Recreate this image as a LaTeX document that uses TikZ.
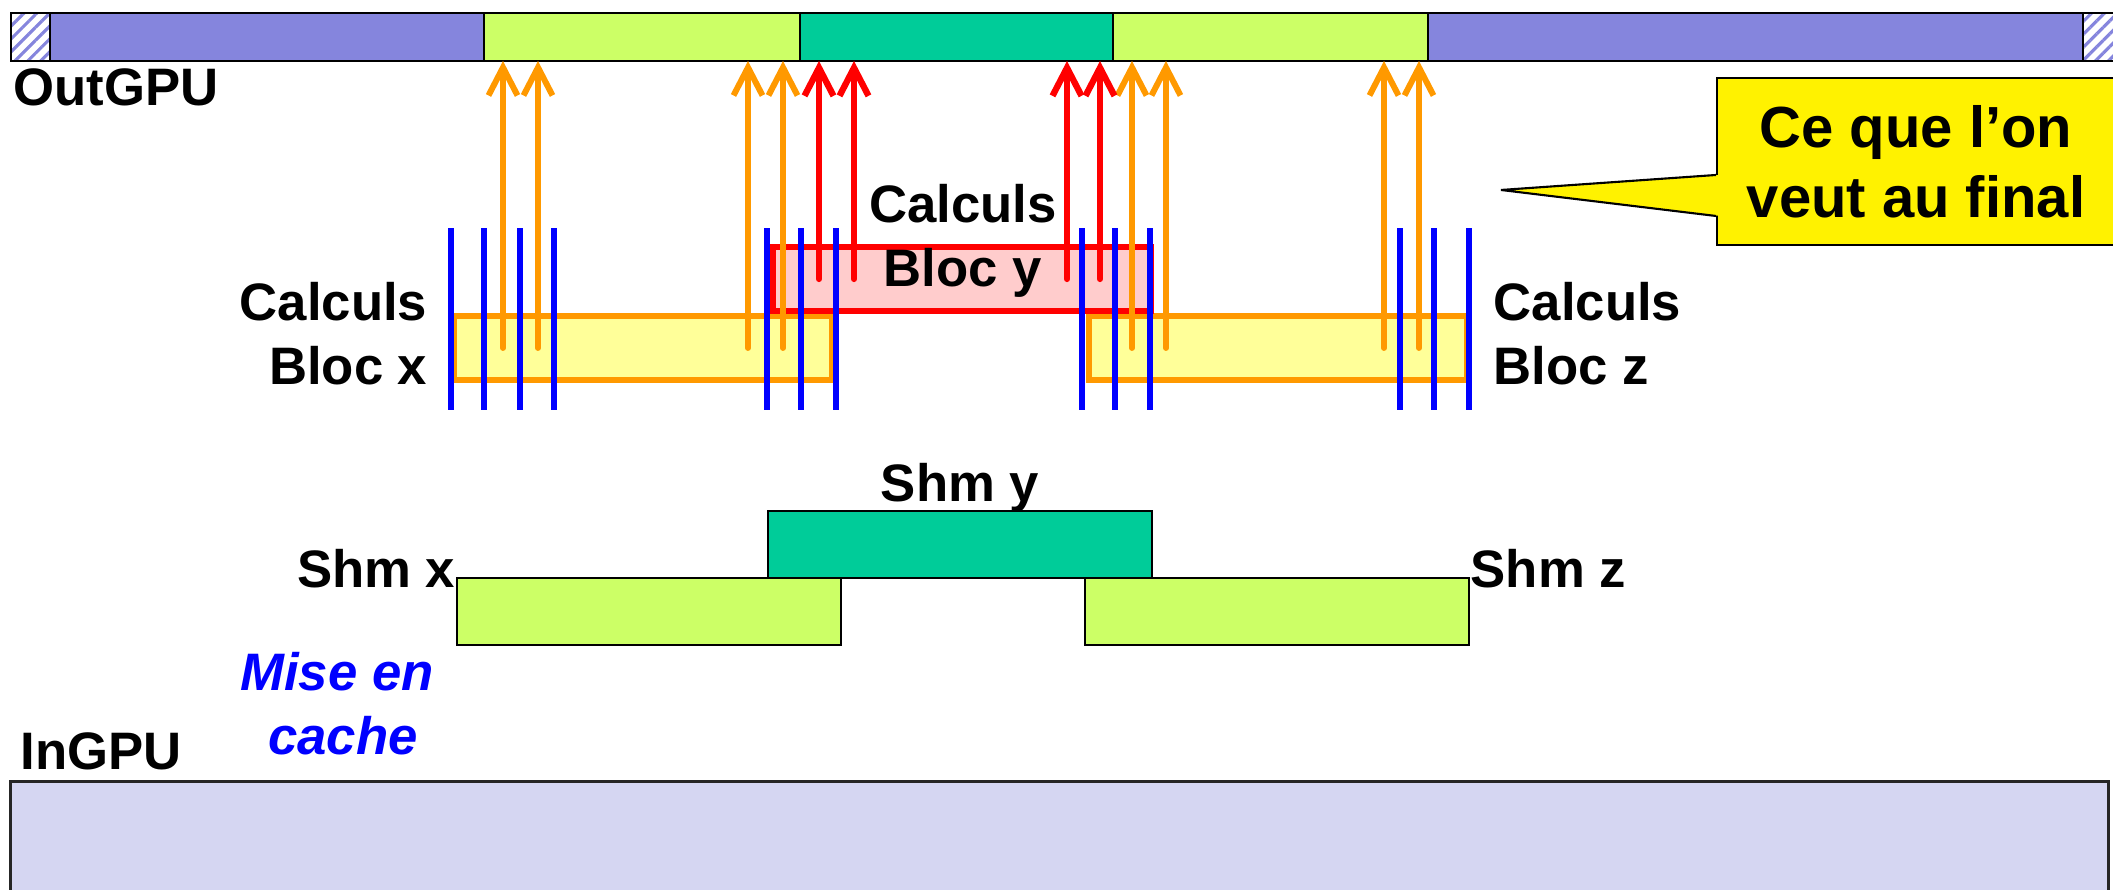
\documentclass[tikz,border=0pt]{standalone}
\usepackage{fontspec}
\setmainfont{Liberation Sans}
\usepackage{tikz}
\usetikzlibrary{positioning, calc, arrows.meta, patterns.meta}

\definecolor{gpublue}{HTML}{8585DD}
\definecolor{gpulight}{HTML}{D5D6F2}
\definecolor{shmgreen}{HTML}{CCFF66}
\definecolor{shmteal}{HTML}{00CC99}
\definecolor{calcorange}{HTML}{FF9900}
\definecolor{calcyellow}{HTML}{FFFF99}
\definecolor{calcpink}{HTML}{FFCCCC}

\begin{document}
\begin{tikzpicture}[
    gpuseg/.style={draw=black, line width=0.6pt, inner sep=0pt, outer sep=0pt, minimum height=0.48cm},
    hatched/.style={gpuseg, pattern={Lines[angle=45,distance=2.6pt,line width=0.9pt]}, pattern color=gpublue},
    calcbox/.style={rectangle, line width=1.7pt, inner sep=0pt, minimum width=3.78cm, minimum height=0.64cm, anchor=north west},
    shmbox/.style={draw=black, line width=0.6pt, inner sep=0pt, minimum width=3.84cm, minimum height=0.67cm, anchor=north west},
    lbl/.style={font=\fontsize{15}{18}\selectfont\bfseries, inner sep=0pt},
    outarrow/.style={calcorange, line width=1.7pt, line cap=round, -{Straight Barb[length=0.28cm,width=0.29cm]}},
    redarrow/.style={red, line width=1.8pt, line cap=round, -{Straight Barb[length=0.28cm,width=0.29cm]}},
    cacheline/.style={blue, line width=1.8pt}
]

    \useasboundingbox (0,0) rectangle (21.13,8.90);

    % --- Top bar: OutGPU ---
    \node[hatched, minimum width=0.39cm, anchor=south west] (hatchl) at (0.11,8.29) {};
    \node[gpuseg, fill=gpublue, minimum width=4.34cm, right=0pt of hatchl] (outl) {};
    \node[gpuseg, fill=shmgreen, minimum width=3.16cm, right=0pt of outl] (outx) {};
    \node[gpuseg, fill=shmteal, minimum width=3.13cm, right=0pt of outx] (outy) {};
    \node[gpuseg, fill=shmgreen, minimum width=3.15cm, right=0pt of outy] (outz) {};
    \node[gpuseg, fill=gpublue, minimum width=6.55cm, right=0pt of outz] (outr) {};
    \node[hatched, minimum width=0.34cm, right=0pt of outr] (hatchr) {};
    \node[lbl, anchor=base west] (outlbl) at (0.13,7.84) {OutGPU};

    % --- Callout ---
    \node[draw=black, fill=yellow, line width=0.6pt, minimum width=3.98cm, minimum height=1.67cm,
          align=center, inner sep=0pt, font=\fontsize{16.5}{19.8}\selectfont\bfseries] (wish) at (19.16,7.285) {Ce que l’on\\veut au final};
    \coordinate (tip) at (15.01,7.00);
    \fill[yellow] (17.20,7.15) -- (tip) -- (17.20,6.74) -- cycle;
    \draw[line width=0.6pt] (wish.west |- 0,7.15) -- (tip) -- (wish.west |- 0,6.74);

    % --- Calculs boxes ---
    \node[calcbox, draw=calcorange, fill=calcyellow] (blocx) at (4.51,5.77) {};
    \node[calcbox, draw=calcorange, fill=calcyellow] (blocz) at (10.86,5.77) {};
    \node[calcbox, draw=red, fill=calcpink] (blocy) at (7.70,6.46) {};

    \node[lbl, align=right, anchor=north east] (calcx) at (4.28,6.08) {Calculs\\Bloc x};
    \node[lbl, align=center, anchor=north] (calcy) at (9.63,7.06) {Calculs\\Bloc y};
    \node[lbl, align=left, anchor=north west] (calcz) at (14.93,6.08) {Calculs\\Bloc z};

    % --- Writes back to OutGPU ---
    \foreach \x in {5.03,5.38,7.48,7.83}
        \draw[outarrow] (\x,0 |- blocx.center) -- (\x,0 |- outx.south);
    \foreach \x in {11.32,11.66,13.84,14.19}
        \draw[outarrow] (\x,0 |- blocz.center) -- (\x,0 |- outz.south);
    \foreach \x in {8.19,8.54,10.67,11.00}
        \draw[redarrow] (\x,0 |- blocy.center) -- (\x,0 |- outy.south);

    % --- Thread lines ---
    \foreach \x in {4.51,4.84,5.20,5.54,7.67,8.01,8.36,10.82,11.15,11.50,14.00,14.34,14.69}
        \draw[cacheline] (\x,4.80) -- (\x,6.62);

    % --- Shared memory ---
    \node[shmbox, fill=shmteal] (shmy) at (7.67,3.80) {};
    \node[shmbox, fill=shmgreen] (shmx) at (4.56,3.13) {};
    \node[shmbox, fill=shmgreen] (shmz) at (10.84,3.13) {};

    \node[lbl, anchor=base] (shmylbl) at ([yshift=0.08cm]shmy.north) {Shm y};
    \node[lbl, anchor=base east] (shmxlbl) at ([yshift=-0.11cm]shmx.north west) {Shm x};
    \node[lbl, anchor=base west] (shmzlbl) at ([yshift=-0.11cm]shmz.north east) {Shm z};

    \node[lbl, text=blue, font=\fontsize{15}{18}\selectfont\bfseries\itshape, align=center, anchor=north] (cachelbl) at (3.37,2.38) {Mise en\\\hspace{0.12cm}cache};

    % --- Bottom bar: InGPU ---
    \node[lbl, anchor=base west] (inlbl) at (0.20,1.20) {InGPU};
    \node[draw=black!85, fill=gpulight, line width=0.8pt, inner sep=0pt, minimum width=20.98cm, minimum height=1.25cm, anchor=north west] (ingpu) at (0.09,1.10) {};

\end{tikzpicture}
\end{document}
